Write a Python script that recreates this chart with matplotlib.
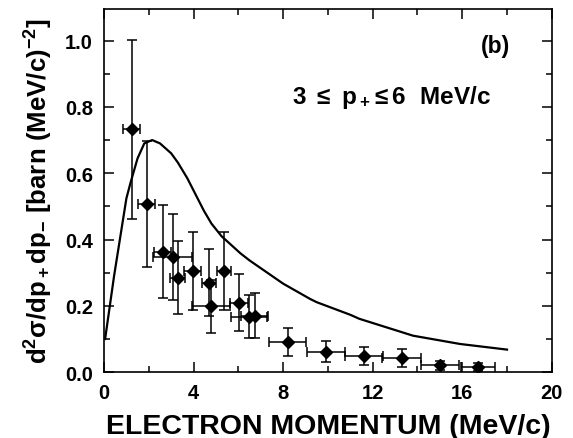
import numpy as np
import matplotlib.pyplot as plt
from matplotlib.ticker import MultipleLocator

plt.rcParams['font.family'] = ['Liberation Sans', 'DejaVu Sans']
plt.rcParams['font.weight'] = 'bold'
plt.rcParams['mathtext.fontset'] = 'custom'
plt.rcParams['mathtext.rm'] = 'Liberation Sans:bold'
plt.rcParams['mathtext.it'] = 'Liberation Sans:bold'
plt.rcParams['mathtext.bf'] = 'Liberation Sans:bold'
plt.rcParams['mathtext.sf'] = 'Liberation Sans:bold'
plt.rcParams['mathtext.default'] = 'rm'

## measured points
p_minus = [1.24, 1.90, 2.62, 3.07, 3.29, 3.96, 4.69, 4.76, 5.36, 6.04, 6.49, 6.74,
           8.20, 9.91, 11.62, 13.29, 15.00, 16.71]
sigma = [0.733, 0.506, 0.363, 0.348, 0.285, 0.305, 0.270, 0.199, 0.305, 0.210, 0.167, 0.170,
         0.090, 0.062, 0.049, 0.042, 0.021, 0.016]
sigma_err = [0.27, 0.19, 0.14, 0.13, 0.11, 0.117, 0.10, 0.08, 0.117, 0.085, 0.065, 0.068,
             0.042, 0.031, 0.028, 0.027, 0.014, 0.013]
p_err = [0.37, 0.36, 0.38, 0.86, 0.32, 0.39, 0.33, 0.85, 0.33, 0.40, 0.80, 0.60,
         0.82, 0.86, 0.84, 0.89, 0.86, 0.76]

## theory curve
curve_x = [0.05, 0.45, 1.0, 1.2, 1.5, 1.8, 2.15, 2.5, 3.0, 3.3, 3.72, 4.15, 4.46, 4.8, 5.25,
           6.1, 6.5, 8.0, 9.2, 9.5, 11.0, 11.4, 13.8, 15.9, 18.0]
curve_y = [0.10, 0.29, 0.524, 0.575, 0.645, 0.69, 0.70, 0.69, 0.66, 0.632, 0.585, 0.528, 0.487,
           0.448, 0.410, 0.358, 0.337, 0.267, 0.221, 0.211, 0.173, 0.161, 0.110, 0.085, 0.068]

fig = plt.figure(figsize=(5.73, 4.39), dpi=100)
ax = fig.add_axes([0.1815, 0.150, 0.7815, 0.827])

ax.plot(curve_x, curve_y, color='black', lw=1.6)
ax.errorbar(p_minus, sigma, xerr=p_err, yerr=sigma_err, fmt='D', color='black',
            markersize=6, elinewidth=1.1, capsize=3.5, capthick=1.1)

ax.set_xlim(0, 20)
ax.set_ylim(0, 1.095)
ax.xaxis.set_major_locator(MultipleLocator(4))
ax.xaxis.set_minor_locator(MultipleLocator(2))
ax.yaxis.set_major_locator(MultipleLocator(0.2))
ax.yaxis.set_minor_locator(MultipleLocator(0.1))
ax.yaxis.set_major_formatter(plt.FormatStrFormatter('%.1f'))
ax.tick_params(which='both', direction='in', top=True, right=True, labelsize=14.5, width=1.1)
ax.tick_params(which='major', length=7, pad=8)
ax.tick_params(which='minor', length=4)
for s in ax.spines.values():
    s.set_linewidth(1.2)

ax.set_xlabel('ELECTRON MOMENTUM (MeV/c)', fontsize=20.5, fontweight='bold', labelpad=8)
ax.set_ylabel(r'$d^2\sigma/dp_+dp_{-}\ [barn\ (MeV/c)^{-2}]$', fontsize=18.5, labelpad=7)

ax.text(17.5, 0.985, '(b)', fontsize=16.5, fontweight='bold', ha='center', va='center')
ax.text(8.4, 0.83, r'$3\ \leq\ p_+\!\leq 6\ \ MeV/c$', fontsize=17.5, ha='left', va='center')

fig.savefig('out.png', dpi=100)
